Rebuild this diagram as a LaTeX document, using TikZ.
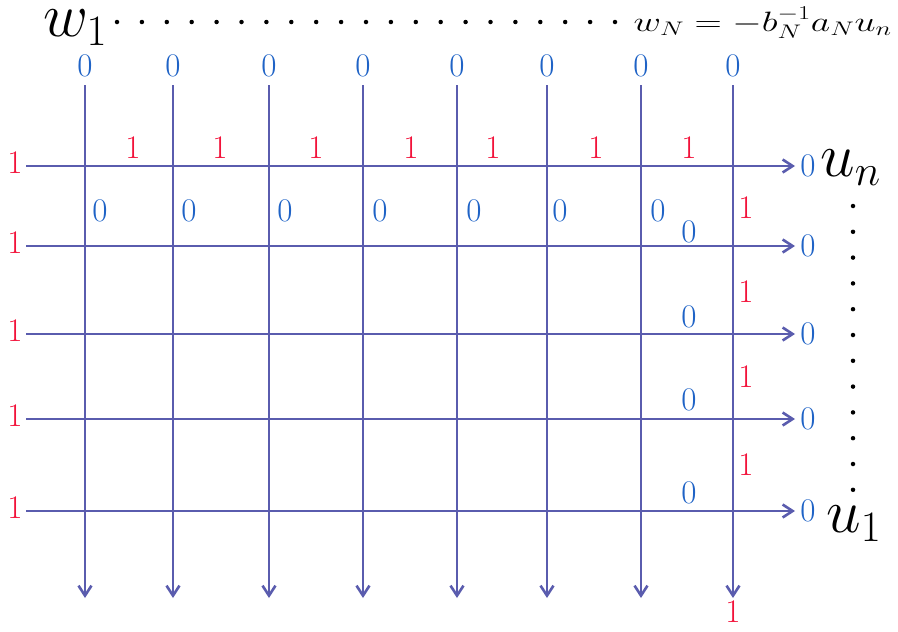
\RequirePackage{fix-cm}
\documentclass[tikz,border=0pt]{standalone}
\usepackage{amsmath}
\usepackage{graphicx}
\usepackage{tikz}
\usetikzlibrary{arrows.meta}
\definecolor{GridBlue}{HTML}{5A5CAE}
\definecolor{LabelBlue}{HTML}{1F63C6}
\definecolor{LabelRed}{HTML}{F2123A}

\begin{document}
\begin{tikzpicture}[
  x=1pt,y=-1pt,
  wire/.style={draw=GridBlue,line width=2.6pt},
  arr/.style={wire,-{Straight Barb[length=10pt,width=13pt]}},
  zero/.style={text=LabelBlue,inner sep=0pt,font=\fontsize{33}{33}\selectfont},
  one/.style={text=LabelRed,inner sep=0pt,font=\fontsize{33}{33}\selectfont},
  big/.style={inner sep=0pt,font=\fontsize{62}{62}\selectfont},
  dotmark/.style={fill=black,circle,inner sep=0pt,minimum size=4.5pt}
]
\useasboundingbox (0,0) rectangle (898,632);
% columns
\foreach \x/\i in {85/1,173/2,269/3,363/4,457/5,547/6,641/7,733/8} {
  \coordinate (vt\i) at (\x,85);
  \coordinate (vb\i) at (\x,598);
  \node[zero] (top\i) at (\x,66) {0};
  \draw[arr] (vt\i) -- (vb\i);
}
% rows
\foreach \y/\j in {166/1,246/2,334/3,419/4,511/5} {
  \coordinate (hl\j) at (26,\y);
  \coordinate (hr\j) at (795,\y);
  \node[one] (in\j) at (15,\y-3) {1};
  \node[zero] (out\j) at (808,\y) {0};
  \draw[arr] (hl\j) -- (hr\j);
}
% cell values
\foreach \x/\k in {133/1,220/2,316/3,411/4,493/5,596/6,689/7}
  \node[one] (r\k) at (\x,148) {1};
\foreach \x/\k in {100/1,189/2,285/3,380/4,474/5,560/6,658/7}
  \node[zero] (s\k) at (\x,211) {0};
\foreach \y/\k in {232/2,317/3,400/4,493/5}
  \node[zero] (c\k) at (689,\y) {0};
\foreach \y/\k in {208/1,292/2,377/3,465/4}
  \node[one] (e\k) at (746,\y) {1};
\node[one] (bot) at (733,612) {1};
% top and right labels
\node[big,anchor=base west] (w1) at (43,36) {$w_1$};
\foreach \k in {0,...,20}
  \node[dotmark] (hd\k) at (117+24.9*\k,22) {};
\node[anchor=base east,inner sep=0pt,font=\fontsize{28}{28}\selectfont] (wN) at (892,31) {\scalebox{1.35}[1]{$w_N=-b_N^{-1}a_Nu_n$}};
\node[big,anchor=base west] (un) at (820,176) {$u_n$};
\foreach \k in {0,...,11}
  \node[dotmark] (vd\k) at (853,206+25.8*\k) {};
\node[big,anchor=base west] (u1) at (826,532) {$u_1$};
\end{tikzpicture}
\end{document}
